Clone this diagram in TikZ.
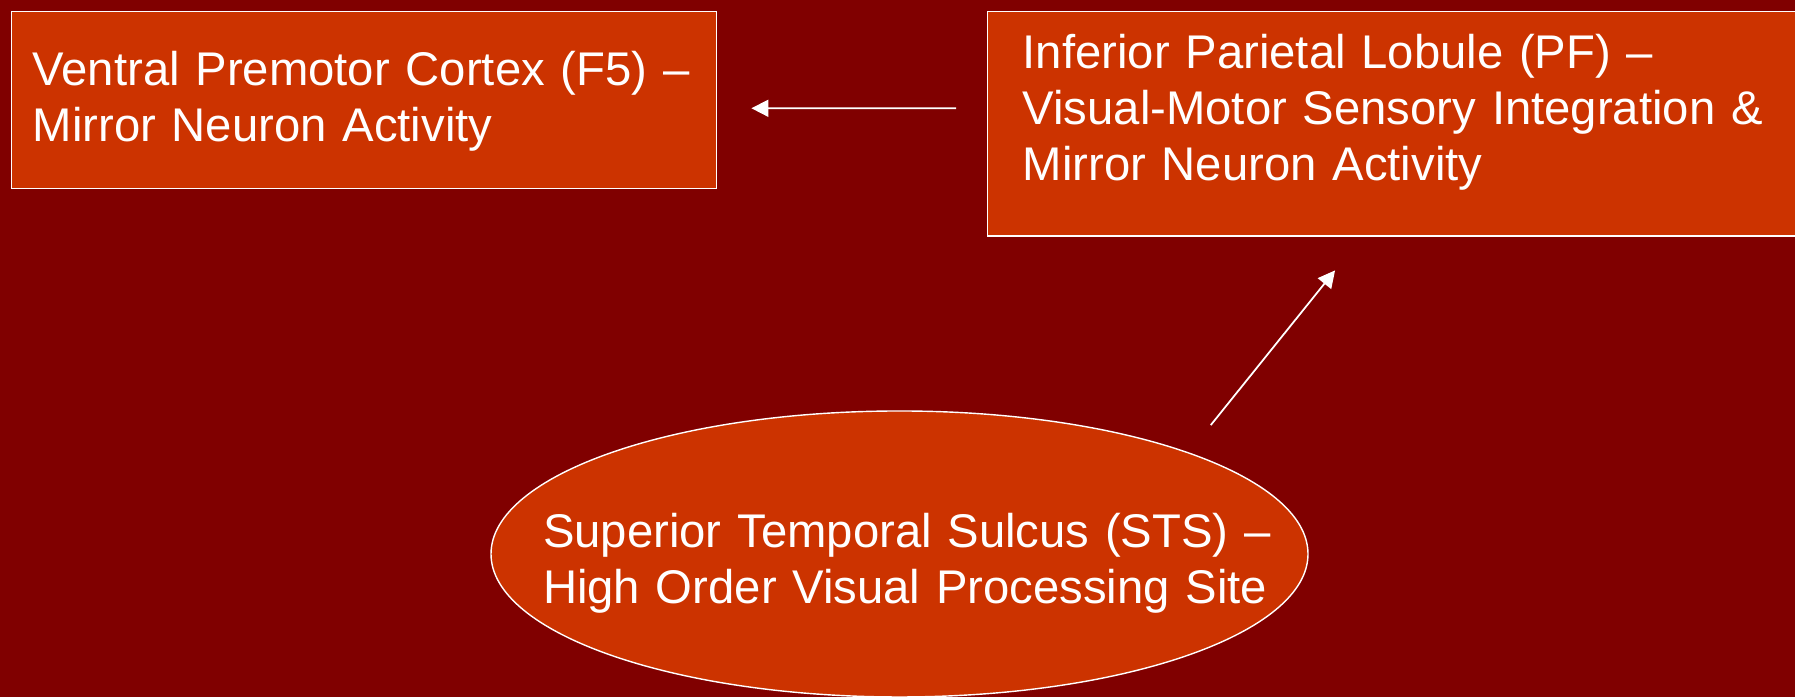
\documentclass[tikz,border=0pt]{standalone}
\usepackage{fontspec}
\setmainfont{Liberation Sans}
\usepackage{tikz}
\usetikzlibrary{shapes.geometric,arrows.meta}
\definecolor{BgRed}{RGB}{128,0,0}
\definecolor{BoxRed}{RGB}{204,51,0}

\begin{document}
\begin{tikzpicture}[
        area/.style={draw=white, line width=0.4pt, fill=BoxRed, text=white, align=left,
            font=\fontsize{13.45pt}{15.9pt}\selectfont, inner ysep=0pt},
        link/.style={draw=white, line width=0.5pt, -{Triangle[length=1.7mm,width=1.7mm]}}]
            \useasboundingbox (0,0) rectangle (17.95,6.97);
            \clip (0,0) rectangle (17.95,6.97);
            \fill[BgRed] (0,0) rectangle (17.95,6.97);
            \node[area, anchor=north west, inner xsep=2.1mm, text width=6.63cm, text height=7.4mm, text depth=10.3mm] (f5) at (0.11,6.86) {\mbox{Ventral Premotor Cortex (F5) –}\\ Mirror Neuron Activity};
            \node[area, anchor=north west, inner xsep=3.5mm, text width=7.73cm, text height=5.7mm, text depth=16.75mm] (pf) at (9.87,6.86) {\mbox{Inferior Parietal Lobule (PF) –}\\ \mbox{Visual-Motor Sensory Integration \&}\\ Mirror Neuron Activity};
            \node[area, ellipse, inner xsep=-1cm, minimum width=8.17cm, minimum height=2.86cm, text width=7.13cm, text height=5mm, text depth=6.26mm] (sts) at (8.995,1.43) {\mbox{Superior Temporal Sulcus (STS) –}\\ \mbox{High Order Visual Processing Site}};
            \draw[link, shorten <=3.1mm, shorten >=3.4mm] ([yshift=1.57mm]pf.west) -- ([yshift=-0.81mm]f5.east);
            \draw[link, shorten <=3.5mm, shorten >=4.3mm] (sts.north east) -- ([xshift=3.75cm]pf.south west);
        \end{tikzpicture}
\end{document}
